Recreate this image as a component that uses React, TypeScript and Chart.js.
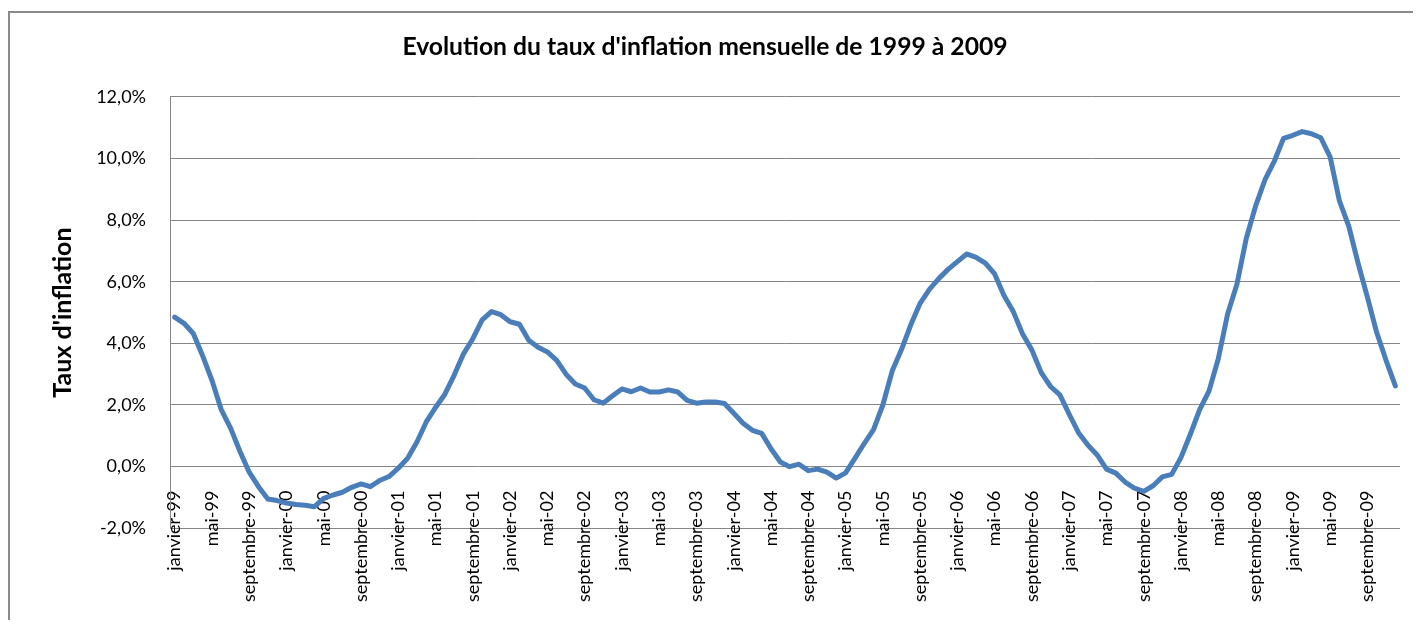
import React, { useEffect, useRef } from 'react';
import { Chart, registerables } from 'chart.js';

Chart.register(...registerables);

const FONT = 'Lato, "DejaVu Sans", sans-serif';

const TITLE = "Evolution du taux d'inflation mensuelle de 1999 à 2009";
const Y_TITLE = "Taux d'inflation";

const MONTHS = ['janvier', 'février', 'mars', 'avril', 'mai', 'juin', 'juillet', 'août', 'septembre', 'octobre', 'novembre', 'décembre'];
const YEARS = ['99', '00', '01', '02', '03', '04', '05', '06', '07', '08', '09'];
const CATEGORIES = YEARS.flatMap((y) => MONTHS.map((m) => `${m}-${y}`));

const INFLATION_1999 = [4.85, 4.65, 4.32, 3.6, 2.8, 1.85, 1.25, 0.5, -0.18, -0.65, -1.05, -1.1];
const INFLATION_2000 = [-1.18, -1.23, -1.25, -1.3, -1.03, -0.92, -0.83, -0.67, -0.56, -0.65, -0.45, -0.32];
const INFLATION_2001 = [-0.05, 0.27, 0.8, 1.45, 1.92, 2.35, 2.97, 3.66, 4.15, 4.76, 5.03, 4.93];
const INFLATION_2002 = [4.7, 4.62, 4.1, 3.87, 3.72, 3.45, 3.0, 2.68, 2.55, 2.17, 2.06, 2.3];
const INFLATION_2003 = [2.52, 2.43, 2.55, 2.42, 2.42, 2.49, 2.42, 2.15, 2.06, 2.1, 2.1, 2.05];
const INFLATION_2004 = [1.73, 1.41, 1.18, 1.08, 0.58, 0.15, 0.0, 0.08, -0.13, -0.08, -0.18, -0.37];
const INFLATION_2005 = [-0.2, 0.27, 0.75, 1.2, 2.0, 3.1, 3.8, 4.6, 5.3, 5.75, 6.1, 6.4];
const INFLATION_2006 = [6.65, 6.9, 6.79, 6.6, 6.25, 5.55, 5.03, 4.3, 3.78, 3.05, 2.6, 2.33];
const INFLATION_2007 = [1.7, 1.1, 0.7, 0.38, -0.08, -0.21, -0.5, -0.7, -0.8, -0.62, -0.33, -0.25];
const INFLATION_2008 = [0.3, 1.05, 1.85, 2.45, 3.5, 4.95, 5.92, 7.4, 8.45, 9.3, 9.9, 10.65];
const INFLATION_2009 = [10.75, 10.87, 10.8, 10.67, 10.05, 8.62, 7.8, 6.6, 5.5, 4.35, 3.45, 2.62];

const INFLATION = [
  ...INFLATION_1999, ...INFLATION_2000, ...INFLATION_2001, ...INFLATION_2002,
  ...INFLATION_2003, ...INFLATION_2004, ...INFLATION_2005, ...INFLATION_2006,
  ...INFLATION_2007, ...INFLATION_2008, ...INFLATION_2009,
];

const Y_MIN = -2;
const Y_MAX = 12;
const Y_STEP = 2;

const formatPct = (v: number) => v.toFixed(1).replace('.', ',') + '%';

export default function App() {
  const canvasRef = useRef<HTMLCanvasElement | null>(null);

  useEffect(() => {
    if (!canvasRef.current) return;
    const chart = new Chart(canvasRef.current, {
      type: 'line',
      data: {
        labels: CATEGORIES,
        datasets: [
          {
            data: INFLATION,
            borderColor: '#4A7EBB',
            backgroundColor: '#4A7EBB',
            borderWidth: 5,
            pointRadius: 0,
            tension: 0,
            fill: false,
            borderJoinStyle: 'round',
            borderCapStyle: 'round',
          },
        ],
      },
      options: {
        responsive: false,
        animation: false,
        devicePixelRatio: 1,
        layout: { padding: { left: 0, right: 21, top: 0, bottom: 94.7 } },
        plugins: {
          legend: { display: false },
          tooltip: { enabled: false },
          title: {
            display: true,
            text: TITLE,
            color: '#000',
            font: { family: FONT, size: 24.7, weight: 'bold' },
            padding: { top: 19.2, bottom: 34.9 },
          },
        },
        scales: {
          x: {
            type: 'category',
            offset: true,
            position: { y: 0 },
            grid: { display: false, drawTicks: false },
            border: { display: false },
            ticks: {
              autoSkip: false,
              minRotation: 90,
              maxRotation: 90,
              padding: 24,
              color: '#000',
              font: { family: FONT, size: 18 },
              callback: function (this: any, v: any, i: number) {
                return i % 4 === 0 ? this.getLabelForValue(v) : '';
              },
            },
            afterFit: (s: any) => {
              s.height = 0;
              s.paddingLeft = 0;
              s.paddingRight = 0;
              s.paddingTop = 0;
              s.paddingBottom = 0;
            },
          },
          y: {
            min: Y_MIN,
            max: Y_MAX,
            ticks: {
              stepSize: Y_STEP,
              padding: 24,
              color: '#000',
              font: { family: FONT, size: 18 },
              callback: (v: any) => formatPct(Number(v)),
            },
            grid: { color: '#868686', lineWidth: 1, drawTicks: false },
            border: { display: true, color: '#868686', width: 1 },
            title: {
              display: true,
              text: Y_TITLE,
              color: '#000',
              font: { family: FONT, size: 25, weight: 'bold' },
              padding: { top: 37.6, bottom: 0 },
            },
            afterFit: (s: any) => {
              s.width = 160;
              s.paddingTop = 0;
              s.paddingBottom = 0;
            },
          },
        },
      } as any,
    });
    return () => chart.destroy();
  }, []);

  return (
    <div
      style={{
        position: 'relative',
        top: 3,
        width: 1411,
        height: 610,
        borderLeft: '2px solid #8a8a8a',
        borderTop: '2px solid #8a8a8a',
        background: '#fff',
      }}
    >
      <canvas ref={canvasRef} width={1411} height={610} style={{ display: 'block' }} />
    </div>
  );
}
